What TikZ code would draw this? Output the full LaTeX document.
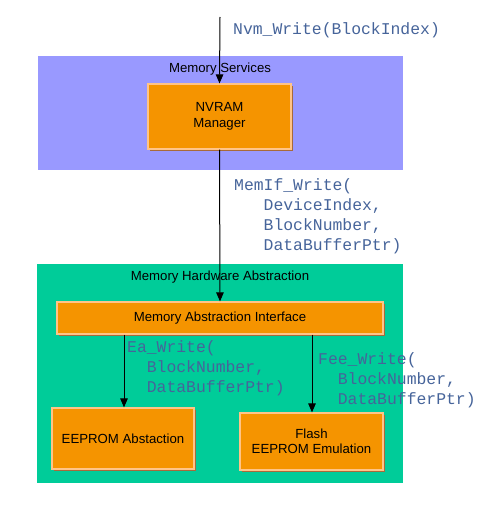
\documentclass[tikz,border=0pt]{standalone}
\usepackage{fontspec}
\setmainfont{Liberation Sans}
\setmonofont{Liberation Mono}
\usetikzlibrary{arrows.meta}
\definecolor{servbg}{HTML}{9999FF}
\definecolor{hwbg}{HTML}{00CC99}
\definecolor{boxfill}{HTML}{F59400}
\definecolor{boxedge}{HTML}{FFC488}
\definecolor{boxshade}{HTML}{A86A3A}
\definecolor{codecol}{HTML}{46649A}
\tikzset{
  orangebox/.style={fill=boxfill, draw=boxedge, line width=1.2pt, inner sep=0pt, font=\fontsize{13.2}{15.5}\selectfont, align=center},
  codetext/.style={font=\ttfamily\fontsize{16.4}{20}\selectfont, text=codecol, anchor=north west, inner sep=0pt, align=left},
  lbl/.style={font=\fontsize{13.2}{15.5}\selectfont, inner sep=0pt},
  arr/.style={-{Triangle[length=9pt,width=7.5pt]}, line width=1pt, black}
}
\newcommand{\obox}[6]{% name, x1, y1, x2, y2, text
  \fill[boxshade] (#2+2,#3+2) rectangle (#4+2,#5+2);
  \node[orangebox, minimum width=#4-#2, minimum height=#5-#3] (#1) at ({(#2+#4)/2},{(#3+#5)/2}) {#6};
}
\begin{document}
\begin{tikzpicture}[x=1pt,y=-1pt]
\useasboundingbox (0,0) rectangle (482,516);
% layers
\fill[servbg] (38,56) rectangle (403,170);
\node[lbl] (servlbl) at (220,69) {Memory Services};
\fill[hwbg] (37,264) rectangle (403,483);
\node[lbl] (hwlbl) at (220,277) {Memory Hardware Abstraction};
% boxes
\obox{nvram}{148}{84}{291}{149}{NVRAM\\Manager}
\obox{mai}{57}{302}{383}{334}{Memory Abstraction Interface}
\obox{eep}{52}{408}{194}{469}{EEPROM Abstaction}
\obox{fee}{240}{413}{383}{470}{Flash\\EEPROM Emulation}
% arrows
\coordinate (top) at (220,17);
\draw[arr] (top) -- (nvram.north);
\draw[arr] (nvram.south) -- (mai.north);
\draw[arr] (mai.south -| 124,0) -- (eep.north -| 124,0);
\draw[arr] (mai.south -| 312,0) -- (fee.north -| 312,0);
% code labels
\node[codetext] (nvmw) at (233,22) {Nvm\_Write(BlockIndex)};
\node[codetext] (memif) at (234,178) {MemIf\_Write(\\\ \ \ DeviceIndex,\\\ \ \ BlockNumber,\\\ \ \ DataBufferPtr)};
\node[codetext] (eaw) at (127,340) {Ea\_Write(\\\ \ BlockNumber,\\\ \ DataBufferPtr)};
\node[codetext] (feew) at (318,352) {Fee\_Write(\\\ \ BlockNumber,\\\ \ DataBufferPtr)};
\end{tikzpicture}
\end{document}
